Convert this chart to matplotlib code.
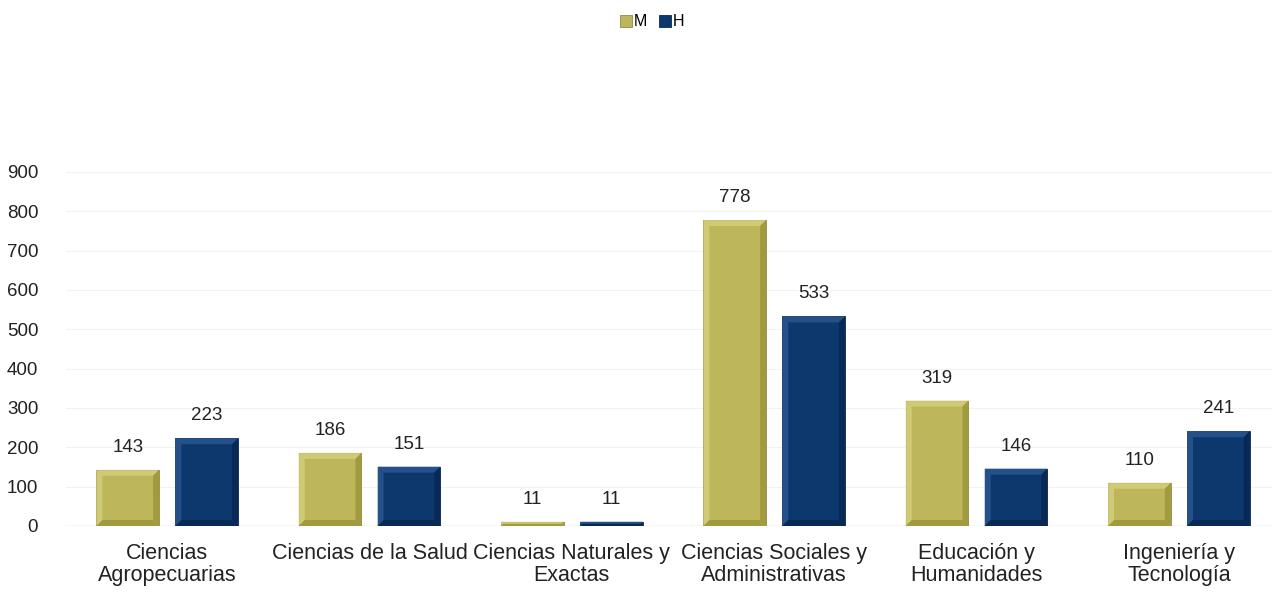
import numpy as np
import matplotlib.pyplot as plt
from matplotlib.patches import Polygon
from matplotlib.transforms import IdentityTransform

categories = ['Ciencias\nAgropecuarias', 'Ciencias de la Salud', 'Ciencias Naturales y\nExactas',
              'Ciencias Sociales y\nAdministrativas', 'Educación y\nHumanidades', 'Ingeniería y\nTecnología']
mujeres = [143, 186, 11, 778, 319, 110]
hombres = [223, 151, 11, 533, 146, 241]

plt.rcParams['font.family'] = ['Liberation Sans', 'DejaVu Sans']

fig = plt.figure(figsize=(12.72, 5.94), dpi=100)
ax = fig.add_axes([66 / 1272, 1 - 526 / 594, 1 - 66 / 1272, (526 - 172) / 594])

x = np.arange(len(categories))
w = 0.31
off = 0.195

# face, light bevel, dark bevel
col_m = ('#BDB65A', '#D6D07C', '#9A9339')
col_h = ('#0D386D', '#2B5891', '#072650')

bars_m = ax.bar(x - off, mujeres, w, color=col_m[0], edgecolor='#8E8A4A', linewidth=0.6, label='M', zorder=2)
bars_h = ax.bar(x + off, hombres, w, color=col_h[0], edgecolor='#0A2A50', linewidth=0.6, label='H', zorder=2)

for bars, vals in ((bars_m, mujeres), (bars_h, hombres)):
    for b, v in zip(bars, vals):
        ax.annotate(f'{v}', (b.get_x() + b.get_width() / 2, v), xytext=(0, 10),
                    textcoords='offset points', ha='center', va='bottom', fontsize=13.5, color='#222222')

ax.set_ylim(0, 900)
ax.set_xlim(-0.5, 5.46)
ax.set_yticks(range(0, 901, 100))
ax.set_xticks(x)
ax.set_xticklabels(categories, fontsize=15.5, color='#222222', linespacing=1.1)
ax.tick_params(axis='y', labelsize=13.5, labelcolor='#222222', length=0, pad=20)
ax.tick_params(axis='x', length=0, pad=12)
for s in ax.spines.values():
    s.set_visible(False)
ax.yaxis.grid(True, color='#F2F2F2', linewidth=0.8, zorder=0)
ax.axhline(0, color='#D9D9D9', linewidth=1, zorder=1)
ax.set_axisbelow(True)

leg = fig.legend(handles=[bars_m, bars_h], labels=['M', 'H'], loc='upper center', bbox_to_anchor=(0.5126, 1.0),
                 ncol=2, frameon=False, fontsize=11.5, handlelength=0.75, handleheight=0.75,
                 handletextpad=0.15, columnspacing=0.7)

# bevel effect drawn in pixel space from each bar's geometry
fig.canvas.draw()
bev = 6
for bars, cols in ((bars_m, col_m), (bars_h, col_h)):
    for b in bars:
        (x0, y0), (x1, y1) = ax.transData.transform([(b.get_x(), 0), (b.get_x() + b.get_width(), b.get_height())])
        d = min(bev, (y1 - y0) / 2, (x1 - x0) / 2)
        polys = [
            ([(x0, y1), (x1, y1), (x1 - d, y1 - d), (x0 + d, y1 - d)], cols[1]),
            ([(x0, y0), (x0, y1), (x0 + d, y1 - d), (x0 + d, y0 + d)], cols[1]),
            ([(x1, y0), (x1, y1), (x1 - d, y1 - d), (x1 - d, y0 + d)], cols[2]),
            ([(x0, y0), (x1, y0), (x1 - d, y0 + d), (x0 + d, y0 + d)], cols[2]),
        ]
        for pts, c in polys:
            fig.patches.append(Polygon(pts, closed=True, facecolor=c, edgecolor='none',
                                       transform=IdentityTransform(), figure=fig, alpha=0.8))

fig.savefig('out.png', dpi=100)
